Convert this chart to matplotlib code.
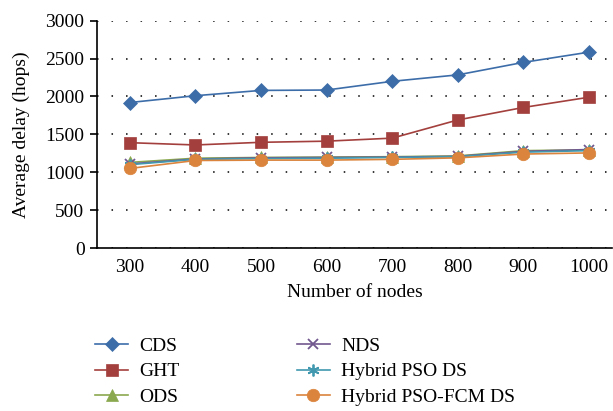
import matplotlib
matplotlib.use('Agg')
import matplotlib.pyplot as plt

nodes = ['300', '400', '500', '600', '700', '800', '900', '1000']
cds = [1920, 2010, 2080, 2085, 2200, 2285, 2450, 2585]
ght = [1390, 1360, 1395, 1410, 1450, 1690, 1855, 1990]
ods = [1130, 1185, 1195, 1200, 1205, 1215, 1285, 1295]
nds = [1110, 1175, 1190, 1195, 1200, 1210, 1275, 1300]
hybrid_pso = [1100, 1170, 1180, 1185, 1195, 1205, 1265, 1285]
hybrid_pso_fcm = [1050, 1155, 1160, 1160, 1170, 1190, 1240, 1255]

series = [
    ('CDS', cds, '#3D6DA9', 'D', 7.5),
    ('GHT', ght, '#A3403D', 's', 8.5),
    ('ODS', ods, '#8AA84E', '^', 8),
    ('NDS', nds, '#71588F', 'x', 7.5),
    ('Hybrid PSO DS', hybrid_pso, '#4198AF', (6, 2, 0), 8.5),
    ('Hybrid PSO-FCM DS', hybrid_pso_fcm, '#DB843D', 'o', 9),
]

plt.rcParams['font.family'] = ['Liberation Serif', 'DejaVu Serif']
plt.rcParams['font.size'] = 14

fig = plt.figure(figsize=(6.13, 4.11), dpi=100)
ax = fig.add_axes([97 / 613, 1 - 248 / 411, 515 / 613, 227.3 / 411])

x = list(range(len(nodes)))
for name, values, color, marker, ms in series:
    ax.plot(x, values, color=color, marker=marker, markersize=ms, linewidth=1.2,
            markeredgewidth=1.3 if marker in ('x', (6, 2, 0)) else 0.5,
            markeredgecolor=color, label=name)

ax.set_xlim(-0.5, 7.35)
ax.set_ylim(0, 3000)
ax.set_yticks(range(0, 3001, 500))
ax.set_xticks(x)
ax.set_xticklabels(nodes)
ax.yaxis.grid(True, color='black', linestyle=(0, (1, 8.5)), linewidth=1.1)
ax.set_axisbelow(True)
for side in ('top', 'right'):
    ax.spines[side].set_visible(False)
ax.spines['left'].set_linewidth(1.2)
ax.spines['bottom'].set_linewidth(1.2)
ax.tick_params(axis='x', length=0, pad=8)
ax.tick_params(axis='y', length=5, width=1.2, direction='out', pad=4)
ax.set_xlabel('Number of nodes', labelpad=6)
ax.set_ylabel('Average delay (hops)')
ax.yaxis.set_label_coords(-0.13, 0.5)

fig.legend(loc='upper left', bbox_to_anchor=(95 / 613, 1 - 337 / 411), ncol=2,
           frameon=False, borderpad=0, borderaxespad=0, handlelength=1.7,
           handletextpad=0.6, columnspacing=6.0, labelspacing=0.42)

fig.savefig('out.png', dpi=100)
